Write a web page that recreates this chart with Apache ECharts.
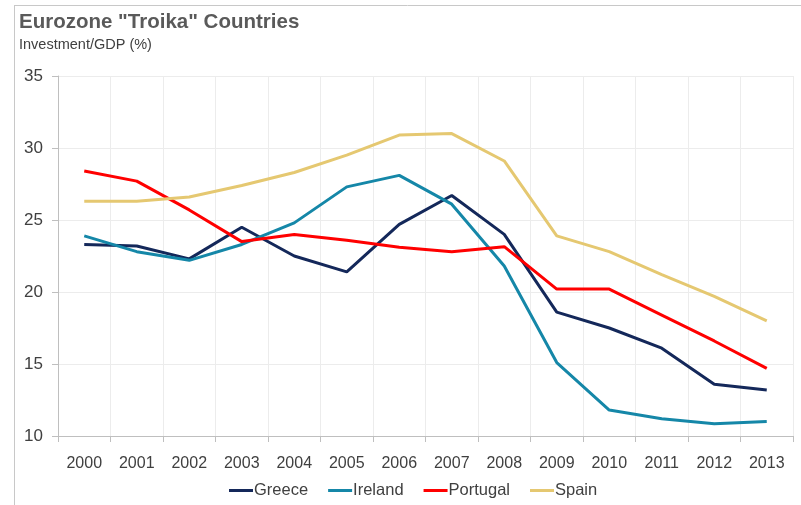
<!DOCTYPE html>
<html><head><meta charset="utf-8">
<script src="https://cdn.jsdelivr.net/npm/echarts@6/dist/echarts.min.js"></script>
<style>html,body{margin:0;padding:0;background:#fff}#c{width:801px;height:505px}</style>
</head><body><div id="c"></div>
<script>
const years = ['2000','2001','2002','2003','2004','2005','2006','2007','2008','2009','2010','2011','2012','2013'];
const greece   = [23.3,23.2,22.3,24.5,22.5,21.4,24.7,26.7,24.0,18.6,17.5,16.1,13.6,13.2];
const ireland  = [23.9,22.8,22.2,23.3,24.8,27.3,28.1,26.1,21.8,15.1,11.8,11.2,10.85,11.0];
const portugal = [28.4,27.7,25.7,23.5,24.0,23.6,23.1,22.8,23.15,20.2,20.2,18.4,16.6,14.7];
const spain    = [26.3,26.3,26.6,27.4,28.3,29.5,30.9,31.0,29.1,23.9,22.8,21.2,19.7,18.0];
const seriesNames = ['Greece','Ireland','Portugal','Spain'];
const colors = ['#14285a','#1587a8','#ff0000','#e5c871'];
const font = 'Liberation Sans, Arial, sans-serif';
const chart = echarts.init(document.getElementById('c'));
const mk = (name, data, color) => ({name, type:'line', data, symbol:'none', smooth:false,
  lineStyle:{width:3, color}, itemStyle:{color}});
chart.setOption({
  animation:false,
  color: colors,
  graphic:[
    {type:'line', shape:{x1:14.5,y1:5,x2:14.5,y2:505}, style:{stroke:'#c8c8c8', lineWidth:1}},
    {type:'line', shape:{x1:14,y1:5.5,x2:801,y2:5.5}, style:{stroke:'#c8c8c8', lineWidth:1}}
  ],
  title:{text:'Eurozone "Troika" Countries', subtext:'Investment/GDP (%)', left:14, top:7, itemGap:4,
    textStyle:{fontFamily:font, fontSize:20.5, fontWeight:'bold', color:'#5a5a5a'},
    subtextStyle:{fontFamily:font, fontSize:14.5, color:'#404040'}},
  legend:{data:seriesNames, bottom:1, left:224, icon:'rect', itemWidth:24, itemHeight:3, itemGap:20,
    textStyle:{fontFamily:font, fontSize:16.5, color:'#404040', padding:[0,0,0,-4]}},
  grid:{left:58, right:8, top:76, bottom:69},
  xAxis:{type:'category', data:years, boundaryGap:true,
    axisLine:{lineStyle:{color:'#bfbfbf'}}, axisTick:{show:true, length:6, lineStyle:{color:'#bfbfbf'}},
    splitLine:{show:true, lineStyle:{color:'#ececec'}},
    axisLabel:{fontFamily:font, fontSize:16, color:'#404040', margin:20}},
  yAxis:{type:'value', min:10, max:35, interval:5,
    axisLine:{show:true, lineStyle:{color:'#bfbfbf'}}, axisTick:{show:true, length:6, lineStyle:{color:'#bfbfbf'}},
    splitLine:{show:true, lineStyle:{color:'#ececec'}},
    axisLabel:{fontFamily:font, fontSize:17, color:'#404040', margin:15}},
  series:[mk('Greece',greece,colors[0]), mk('Ireland',ireland,colors[1]), mk('Portugal',portugal,colors[2]), mk('Spain',spain,colors[3])]
});
</script></body></html>
